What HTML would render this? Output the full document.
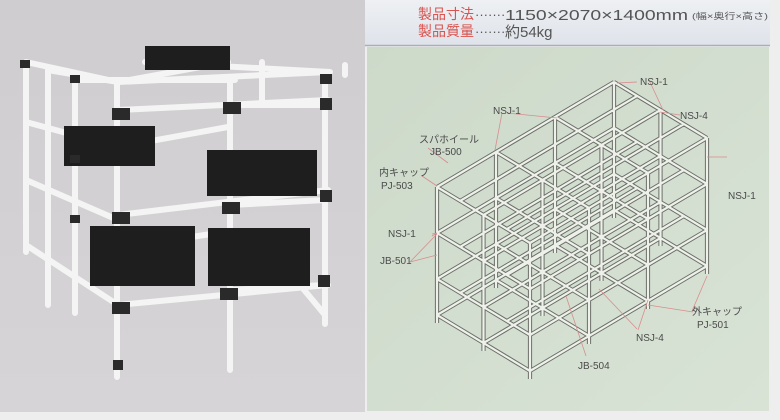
<!DOCTYPE html>
<html><head><meta charset="utf-8"><style>
html,body{margin:0;padding:0;background:#eeeeee;}
body{width:780px;height:420px;overflow:hidden;position:relative;font-family:"Liberation Sans","Noto Sans CJK JP",sans-serif;}
</style></head><body>
<svg width="780" height="420" viewBox="0 0 780 420" xmlns="http://www.w3.org/2000/svg" style="position:absolute;left:0;top:0">
<defs>
<linearGradient id="gr" x1="0" y1="0" x2="1" y2="1">
<stop offset="0" stop-color="#cdd9c9"/><stop offset="1" stop-color="#d8e3d6"/></linearGradient>
<linearGradient id="hd" x1="0" y1="0" x2="0" y2="1">
<stop offset="0" stop-color="#eef0f3"/><stop offset="1" stop-color="#dfe3ea"/></linearGradient>
<linearGradient id="lg" x1="0" y1="0" x2="0" y2="1">
<stop offset="0" stop-color="#cfcdcf"/><stop offset="1" stop-color="#d6d4d6"/></linearGradient>
<path id="fr" d="M437 187v136M496 152v136M555 117v136M614 82v136M483.5 215v136M542.5 180v136M601.5 145v136M660.5 110v136M530 243v136M589 208v136M648 173v136M707 138v136
M437 187l177 -105M437 233l177 -105M437 279l177 -105M437 315l177 -105
M483.5 215l177 -105M483.5 261l177 -105M483.5 307l177 -105M483.5 343l177 -105
M530 243l177 -105M530 289l177 -105M530 335l177 -105M530 371l177 -105
M437 187l93 56M437 233l93 56M437 279l93 56M437 315l93 56
M496 152l93 56M496 198l93 56M496 244l93 56M496 280l93 56
M555 117l93 56M555 163l93 56M555 209l93 56M555 245l93 56
M614 82l93 56M614 128l93 56M614 174l93 56M614 210l93 56
M460 201l177 -105M460 247l177 -105M460 293l177 -105M507 229l177 -105M507 275l177 -105M507 321l177 -105"/>
</defs>
<rect x="0" y="0" width="365" height="412" fill="url(#lg)"/>
<rect x="365" y="0" width="405" height="45" fill="url(#hd)"/>
<line x1="365" y1="45.5" x2="770" y2="45.5" stroke="#a9afb8" stroke-width="1.5"/>
<rect x="367" y="47" width="402" height="364" fill="url(#gr)"/>

<g stroke="#f4f4f4" stroke-width="6" stroke-linecap="round">
<path d="M26 62v190M48 70v235M75 78v235M117 82v295M230 80v290M325 72v252M262 62v40M345 75v-10"/>
<path d="M26 62l92 20M48 70l70 12M118 82l210 -10M118 82l110 -20M75 80l160 0M26 122l92 25M26 180l92 40M26 245l92 60M118 110l210 -10M118 147l110 -20M118 215l210 -25M118 305l210 -20M118 248l100 -15M230 105l95 0M230 205l95 -5M230 290l95 -5M300 285l25 30M145 62l185 10"/>
</g>
<g fill="#1e1e1e">
<rect x="145" y="46" width="85" height="24"/>
<rect x="64" y="126" width="91" height="40"/>
<rect x="207" y="150" width="110" height="46"/>
<rect x="90" y="226" width="105" height="60"/>
<rect x="208" y="228" width="102" height="58"/>
</g>
<g fill="#2a2a2a">
<rect x="112" y="108" width="18" height="12"/><rect x="223" y="102" width="18" height="12"/>
<rect x="112" y="212" width="18" height="12"/><rect x="222" y="202" width="18" height="12"/>
<rect x="112" y="302" width="18" height="12"/><rect x="220" y="288" width="18" height="12"/>
<rect x="320" y="74" width="12" height="10"/><rect x="320" y="98" width="12" height="12"/>
<rect x="320" y="190" width="12" height="12"/><rect x="318" y="275" width="12" height="12"/>
<rect x="20" y="60" width="10" height="8"/><rect x="70" y="75" width="10" height="8"/>
<rect x="70" y="155" width="10" height="8"/><rect x="70" y="215" width="10" height="8"/>
<rect x="113" y="360" width="10" height="10"/>
</g>

<g fill="#555">
<text x="418" y="19" font-size="14" fill="#d9534f">製品寸法</text>
<text x="475" y="19" font-size="13">·······</text>
<text x="505" y="20" font-size="15" textLength="183" lengthAdjust="spacingAndGlyphs">1150×2070×1400mm</text>
<text x="692" y="19" font-size="8.5" textLength="76" lengthAdjust="spacingAndGlyphs">(幅×奥行×高さ)</text>
<text x="418" y="36" font-size="14" fill="#d9534f">製品質量</text>
<text x="475" y="36" font-size="13">·······</text>
<text x="505" y="37" font-size="15">約54kg</text>
</g>

<use href="#fr" stroke="#6b6f68" stroke-width="4.2" fill="none"/>
<use href="#fr" stroke="#eef1ea" stroke-width="2.2" fill="none"/>

<g stroke="#d88d8d" stroke-width="0.8" fill="none">
<path d="M617 83l20 -1M663 110l-14 -30M557 118l-50 -5M502 113l-7 37M660 112l20 3M437 186l-15 -10M428 148l20 15M432 234l5 -1M432 236l5 -3M410 262l27 -28M410 262l27 -7M707 157l20 0M707 276l-15 35M648 305l45 7M566 296l20 60M599 289l38 40M648 300l-10 30"/>
</g>
<g font-size="10" fill="#4a4a4a">
<text x="640" y="85">NSJ-1</text>
<text x="493" y="114">NSJ-1</text>
<text x="680" y="119">NSJ-4</text>
<text x="419" y="143">スパホイール</text>
<text x="430" y="155">JB-500</text>
<text x="379" y="176">内キャップ</text>
<text x="381" y="189">PJ-503</text>
<text x="388" y="237">NSJ-1</text>
<text x="380" y="264">JB-501</text>
<text x="728" y="199">NSJ-1</text>
<text x="692" y="315">外キャップ</text>
<text x="697" y="328">PJ-501</text>
<text x="636" y="341">NSJ-4</text>
<text x="578" y="369">JB-504</text>
</g>
</svg>
</body></html>
